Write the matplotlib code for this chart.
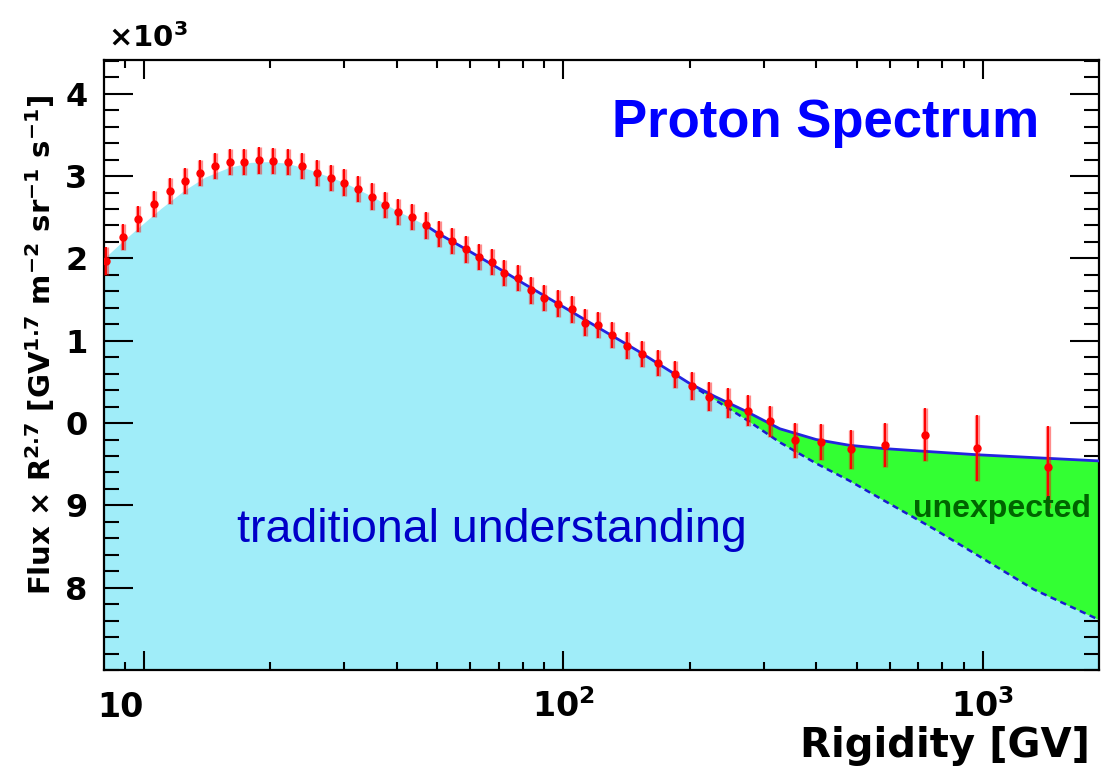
import numpy as np
import matplotlib
matplotlib.use('Agg')
import matplotlib.pyplot as plt
from matplotlib.ticker import FixedLocator, MultipleLocator, LogLocator, NullFormatter, FixedFormatter

plt.rcParams['font.family'] = 'DejaVu Sans'
plt.rcParams['font.weight'] = 'bold'
plt.rcParams['mathtext.fontset'] = 'dejavusans'
plt.rcParams['mathtext.default'] = 'bf'

# measured points: rigidity [GV], flux x R^2.7 [x10^3], error [x10^3]
rigidity = [8.12, 8.90, 9.69, 10.58, 11.54, 12.52, 13.60, 14.77, 16.03, 17.34,
            18.80, 20.34, 22.08, 23.76, 25.85, 27.87, 30.03, 32.43, 34.89, 37.54,
            40.39, 43.46, 46.94, 50.50, 54.31, 58.48, 62.90, 67.43, 72.25, 77.79,
            83.66, 90.00, 96.87, 104.6, 112.5, 121.1, 130.3, 141.5, 154.1, 167.7,
            184.5, 202.1, 222.3, 247.1, 275.8, 310.6, 356.3, 411.0, 483.7, 584.1,
            727.3, 966.0, 1426.0]
flux = [11.97, 12.26, 12.48, 12.66, 12.82, 12.94, 13.04, 13.12, 13.17, 13.17,
        13.19, 13.18, 13.17, 13.12, 13.04, 12.98, 12.92, 12.84, 12.75, 12.65,
        12.56, 12.50, 12.40, 12.30, 12.21, 12.11, 12.02, 11.96, 11.82, 11.76,
        11.61, 11.52, 11.45, 11.38, 11.22, 11.19, 11.07, 10.94, 10.84, 10.73,
        10.59, 10.45, 10.32, 10.24, 10.15, 10.02, 9.79, 9.77, 9.68, 9.73,
        9.86, 9.70, 9.47]
flux_err = [0.17, 0.16, 0.16, 0.16, 0.16, 0.16, 0.16, 0.16, 0.16, 0.16,
            0.16, 0.16, 0.16, 0.16, 0.16, 0.16, 0.16, 0.16, 0.16, 0.16,
            0.16, 0.16, 0.16, 0.16, 0.16, 0.16, 0.16, 0.16, 0.16, 0.16,
            0.16, 0.16, 0.16, 0.16, 0.16, 0.16, 0.16, 0.16, 0.16, 0.16,
            0.165, 0.17, 0.175, 0.18, 0.19, 0.19, 0.21, 0.22, 0.24, 0.27,
            0.32, 0.40, 0.50]

# model curves: single power law ("traditional") and fit with a spectral break
model_R = [8.0, 9.0, 10.0, 11.0, 12.5, 14.0, 16.0, 18.0, 20.0, 22.0, 25.0,
           30.0, 35.0, 40.0, 47.0, 50.0, 60.0, 70.0, 80.0, 100.0, 120.0, 150.0,
           200.0, 230.0, 273.0, 328.0, 400.0, 480.0, 580.0, 760.0, 966.0,
           1320.0, 1890.0]
model_trad = [11.98, 12.22, 12.42, 12.60, 12.82, 12.98, 13.10, 13.16, 13.17,
              13.15, 13.07, 12.92, 12.75, 12.58, 12.40, 12.31, 12.08, 11.88,
              11.70, 11.41, 11.17, 10.88, 10.47, 10.28, 10.04, 9.765, 9.51,
              9.30, 9.06, 8.72, 8.40, 7.98, 7.61]
model_fit = [np.nan, np.nan, np.nan, np.nan, np.nan, np.nan, np.nan, np.nan,
             np.nan, np.nan, np.nan, np.nan, np.nan, np.nan, 12.40, 12.31,
             12.08, 11.88, 11.70, 11.41, 11.17, 10.88, 10.48, 10.32, 10.14,
             9.93, 9.80, 9.73, 9.69, 9.65, 9.615, 9.58, 9.54]

y_ticks = [8, 9, 10, 11, 12, 13, 14]
y_ticklabels = ['8', '9', '0', '1', '2', '3', '4']
x_ticks = [10, 100, 1000]
x_ticklabels = ['10', r'$10^{2}$', r'$10^{3}$']

R = np.array(model_R)
trad = np.array(model_trad)
fit = np.array(model_fit)

fig = plt.figure(figsize=(11.01, 7.72), dpi=100)
ax = fig.add_axes([104/1101, 1 - 670/772, 995/1101, 610/772])
ax.set_xscale('log')
ax.set_xlim(8.03, 1890)
ax.set_ylim(7.0, 14.41)

cyan = '#a0edf9'
green = '#33ff33'
blue = '#2424e0'

ax.fill_between(R, 0, trad, color=cyan, lw=0, zorder=1)
high = ~np.isnan(fit)
ax.fill_between(R[high], trad[high], fit[high], where=fit[high] > trad[high],
                interpolate=True, color=green, lw=0, zorder=2)
tail = R >= 200
ax.plot(R[tail], trad[tail], color='#1a1ad0', lw=1.8, ls=(0, (2.5, 1.8)), zorder=3)
ax.plot(R[high], fit[high], color=blue, lw=2, zorder=3)

ax.errorbar(rigidity, flux, yerr=flux_err, fmt='none', ecolor='red',
            elinewidth=3.8, alpha=0.45, zorder=4)
ax.errorbar(rigidity, flux, yerr=flux_err, fmt='o', color='red', ms=5,
            elinewidth=1.4, ecolor='red', zorder=5)

ax.xaxis.set_major_locator(FixedLocator(x_ticks))
ax.xaxis.set_major_formatter(FixedFormatter(x_ticklabels))
ax.xaxis.set_minor_locator(LogLocator(base=10, subs=np.arange(2, 10)))
ax.xaxis.set_minor_formatter(NullFormatter())
ax.yaxis.set_major_locator(FixedLocator(y_ticks))
ax.yaxis.set_major_formatter(FixedFormatter(y_ticklabels))
ax.yaxis.set_minor_locator(MultipleLocator(0.2))

ax.tick_params(which='both', direction='in', top=True, right=True, width=1.5)
ax.tick_params(axis='x', which='major', length=14, pad=34, labelsize=24)
ax.tick_params(axis='x', which='minor', length=6)
ax.tick_params(axis='y', which='major', length=21, pad=12, labelsize=23)
ax.tick_params(axis='y', which='minor', length=11)
plt.setp(ax.get_xticklabels(), va='baseline')
ax.get_xticklabels()[0].set_ha('right')
for s in ax.spines.values():
    s.set_linewidth(1.6)

fig.text(108/1101, 1 - 47/772, r'$\times10^{3}$', fontsize=21, va='baseline')
fig.text(1090/1101, 1 - 757/772, 'Rigidity [GV]', fontsize=29, ha='right',
         va='baseline')
fig.text(40/1101, 1 - 345/772,
         r'Flux $\times$ R$^{2.7}$ [GV$^{1.7}$ m$^{-2}$ sr$^{-1}$ s$^{-1}$]',
         fontsize=21, rotation=90, ha='center', va='center')

ax.text(130.5, 13.48, 'Proton Spectrum', fontsize=38, color='#0000ff',
        family='Liberation Sans', weight='bold', va='baseline', zorder=6)
ax.text(16.66, 8.55, 'traditional understanding', fontsize=33.5,
        color='#0000c8', family='Liberation Sans', weight='normal',
        va='baseline', zorder=6)
ax.text(680, 8.86, 'unexpected', fontsize=23, color='#006400',
        family='Liberation Sans', weight='bold', va='baseline', zorder=6)

fig.savefig('out.png', dpi=100)
